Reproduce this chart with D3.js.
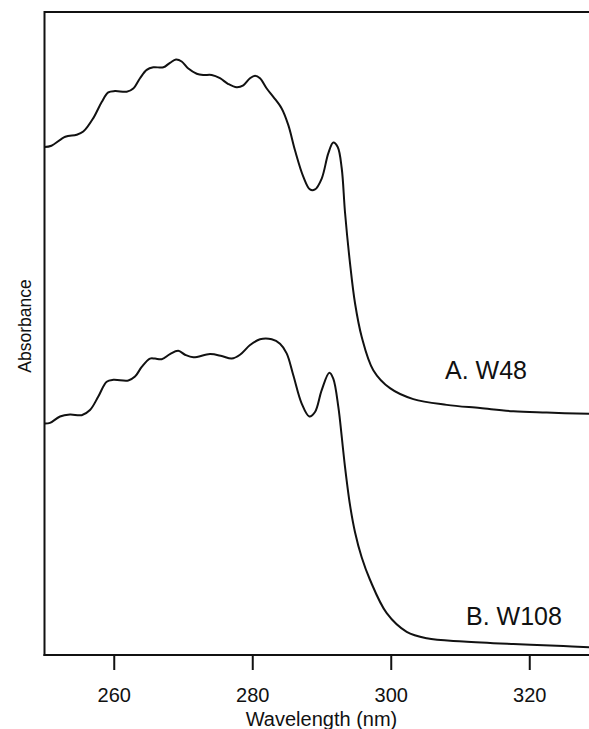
<!DOCTYPE html>
<html>
<head>
<meta charset="utf-8">
<script src="https://cdn.jsdelivr.net/npm/d3@7"></script>
<style>
  html, body { margin: 0; padding: 0; background: #fff; }
  svg { display: block; font-family: "Liberation Sans", Arial, sans-serif; }
</style>
</head>
<body>
<svg id="chart" width="589" height="729"></svg>
<script>
// Wavelength (nm) and relative absorbance for each spectrum
const wavelengthA = [250.0, 251.0, 253.0, 254.65, 255.6, 257.05, 258.26, 259.21, 260.18, 261.87, 262.82, 263.79, 264.76, 265.71, 267.16, 268.12, 268.99, 269.81, 270.77, 271.98, 272.93, 274.14, 275.34, 276.54, 277.75, 278.71, 279.68, 280.4, 281.12, 282.09, 283.04, 284.25, 285.21, 286.17, 287.37, 288.34, 289.06, 290.03, 290.98, 291.7, 292.34, 292.92, 293.39, 294.12, 294.84, 295.8, 297.48, 299.89, 303.26, 308.08, 312.89, 317.7, 322.52, 328.63];
const absorbanceA = [0.790, 0.792, 0.806, 0.809, 0.814, 0.835, 0.860, 0.875, 0.877, 0.876, 0.881, 0.897, 0.910, 0.914, 0.914, 0.921, 0.926, 0.923, 0.912, 0.904, 0.902, 0.902, 0.897, 0.888, 0.883, 0.886, 0.897, 0.901, 0.897, 0.881, 0.868, 0.850, 0.824, 0.785, 0.744, 0.724, 0.724, 0.741, 0.780, 0.797, 0.790, 0.757, 0.689, 0.609, 0.547, 0.495, 0.443, 0.415, 0.398, 0.389, 0.384, 0.379, 0.377, 0.375];

const wavelengthB = [250.0, 250.79, 252.24, 253.68, 255.37, 256.57, 257.77, 258.98, 259.94, 262.1, 263.07, 264.04, 265.23, 265.96, 266.92, 268.12, 269.32, 270.29, 271.49, 273.9, 275.59, 277.03, 278.23, 279.68, 281.12, 282.81, 284.01, 284.97, 285.93, 287.14, 288.24, 289.06, 290.03, 291.13, 291.7, 292.43, 292.67, 293.39, 294.12, 294.84, 295.8, 297.0, 299.42, 302.3, 305.19, 310.48, 317.7, 324.92, 328.63];
const absorbanceB = [0.360, 0.361, 0.371, 0.374, 0.373, 0.381, 0.402, 0.425, 0.428, 0.427, 0.433, 0.448, 0.461, 0.461, 0.460, 0.468, 0.473, 0.467, 0.463, 0.468, 0.465, 0.461, 0.467, 0.482, 0.491, 0.491, 0.484, 0.469, 0.435, 0.391, 0.371, 0.378, 0.412, 0.439, 0.430, 0.386, 0.365, 0.293, 0.233, 0.191, 0.152, 0.117, 0.065, 0.036, 0.026, 0.021, 0.017, 0.014, 0.012];

const seriesLabels = ["A. W48", "B. W108"];
const xTicks = [260, 280, 300, 320];
const xDomain = [250, 330];
const yDomain = [0, 1];

(function () {
const svg = d3.select("#chart");
const plotLeft = 44.5, plotTop = 12, plotBottom = 655;
const x = d3.scaleLinear().domain(xDomain).range([plotLeft, plotLeft + 80 * 6.925]);
const y = d3.scaleLinear().domain(yDomain).range([plotBottom, plotTop]);

const ink = "#111";

svg.append("defs").append("clipPath").attr("id", "clip")
  .append("rect").attr("x", plotLeft).attr("y", plotTop).attr("width", 600).attr("height", plotBottom - plotTop);

const line = d3.line()
  .x(d => x(d[0])).y(d => y(d[1]))
  .curve(d3.curveCatmullRom.alpha(0.5));

const seriesA = wavelengthA.map((w, i) => [w, absorbanceA[i]]);
const seriesB = wavelengthB.map((w, i) => [w, absorbanceB[i]]);

const plot = svg.append("g").attr("clip-path", "url(#clip)");
[seriesA, seriesB].forEach(s => {
  plot.append("path").datum(s)
    .attr("d", line)
    .attr("fill", "none")
    .attr("stroke", ink)
    .attr("stroke-width", 2)
    .attr("stroke-linejoin", "round");
});

svg.append("line").attr("x1", plotLeft).attr("x2", 600).attr("y1", plotTop).attr("y2", plotTop)
  .attr("stroke", ink).attr("stroke-width", 2);
svg.append("line").attr("x1", plotLeft).attr("x2", plotLeft).attr("y1", plotTop - 1).attr("y2", plotBottom + 1)
  .attr("stroke", ink).attr("stroke-width", 2);

const xAxis = d3.axisBottom(x).tickValues(xTicks).tickSize(15).tickSizeOuter(0).tickPadding(18)
  .tickFormat(d3.format("d"));
const gx = svg.append("g").attr("transform", `translate(0,${plotBottom})`).call(xAxis);
gx.select(".domain").attr("stroke", ink).attr("stroke-width", 2)
  .attr("d", `M${plotLeft - 1},0H600`);
gx.selectAll(".tick line").attr("stroke", ink).attr("stroke-width", 2);
gx.selectAll(".tick text").attr("fill", ink).style("font-size", "20px")
  .style("font-family", "'Liberation Sans', Arial, sans-serif");

svg.append("text").attr("x", x(290)).attr("y", 726).attr("text-anchor", "middle")
  .attr("fill", ink).style("font-size", "20px").text("Wavelength (nm)");
svg.append("text").attr("transform", "translate(31,326) rotate(-90)")
  .attr("text-anchor", "middle").attr("fill", ink).style("font-size", "17.5px").text("Absorbance");

svg.append("text").attr("x", 445).attr("y", 379).attr("fill", ink)
  .style("font-size", "25px").text(seriesLabels[0]);
svg.append("text").attr("x", 466).attr("y", 625).attr("fill", ink)
  .style("font-size", "25px").text(seriesLabels[1]);
})();
</script>
</body>
</html>
